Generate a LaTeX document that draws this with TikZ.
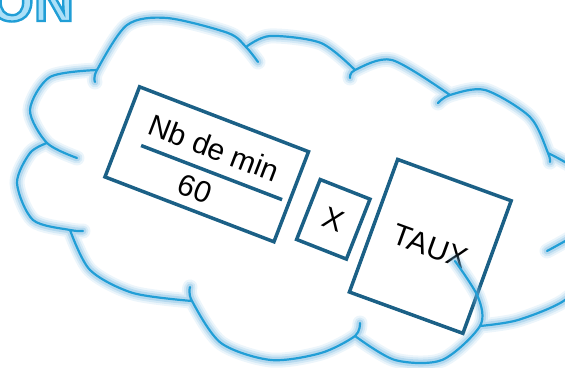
\documentclass[tikz,border=0pt]{standalone}
\usepackage{fontspec}
\setmainfont{Liberation Sans}
\definecolor{tileblue}{RGB}{27,96,134}
\definecolor{cloudline}{RGB}{33,158,214}
\definecolor{cloudglow}{RGB}{105,178,222}
\definecolor{titlefill}{RGB}{172,224,248}
\newcommand\outlined[1]{\special{pdf:literal direct 2 Tr 2.4 w 0.13 0.62 0.84 RG}#1\special{pdf:literal direct 0 Tr}}
\tikzset{
  tile/.style={draw=tileblue, line width=3.5pt, inner sep=0pt},
  lbl/.style={font=\fontsize{30}{32}\selectfont},
}
\begin{document}
\begin{tikzpicture}[x=1pt, y=1pt]
\useasboundingbox (0,0) rectangle (565,367);
\clip (0,0) rectangle (565,367);
\node[anchor=base west, inner sep=0pt, text=titlefill, font=\bfseries\fontsize{56}{56}\selectfont] (title) at (-10,346) {\outlined{ON}};
\begin{scope}[shift={(206.75,202.7)}, rotate=-21, transform shape]
\node[tile, minimum width=181pt, minimum height=96.5pt] (frac) at (0,0) {};
\node[lbl] (num) at (1,18) {Nb de min};
\node[lbl] (den) at (-2,-27) {60};
\draw[tileblue, line width=3.5pt] (-68,-6) -- (83,-6);
\end{scope}
\node[tile, lbl, rotate=-21.5, minimum width=53.5pt, minimum height=64.4pt] (times) at (333.3,147.7) {X};
\node[tile, lbl, rotate=-20, minimum width=120.8pt, minimum height=141.1pt] (rate) at (430.3,120.6) {TAUX};
\foreach \w/\o/\c in {15/.13/cloudglow, 11/.18/cloudglow, 7/.3/cloudglow, 2.2/1/cloudline}
\draw[\c, line width=\w pt, opacity=\o, line cap=round]
  plot[smooth] coordinates {(77,209) (47,224) (30,257) (50,290) (97,297)}
  plot[smooth] coordinates {(95,285) (97,297) (127,342) (167,349) (228,334) (246,320) (258,305)}
  plot[smooth] coordinates {(246,320) (270,331) (321,324) (355,297)}
  plot[smooth] coordinates {(350,289) (355,297) (392,307) (450,272)}
  plot[smooth] coordinates {(438,264) (450,272) (485,277) (530,250) (548,214) (550,205)}
  plot[smooth] coordinates {(548,214) (585,190) (590,150) (578,134) (547,116)}
  plot[smooth] coordinates {(578,134) (592,100) (565,67) (518,47) (480,41)}
  plot[smooth] coordinates {(455,106) (478,70) (480,41) (442,7) (395,7) (355,31)}
  plot[smooth] coordinates {(360,44) (355,31) (321,14) (271,7) (221,24) (192,66) (190,80)}
  plot[smooth] coordinates {(192,66) (133,74) (90,97) (70,137)}
  plot[smooth] coordinates {(83,136) (70,137) (33,147) (17,184) (30,214) (47,224)};
\end{tikzpicture}
\end{document}
